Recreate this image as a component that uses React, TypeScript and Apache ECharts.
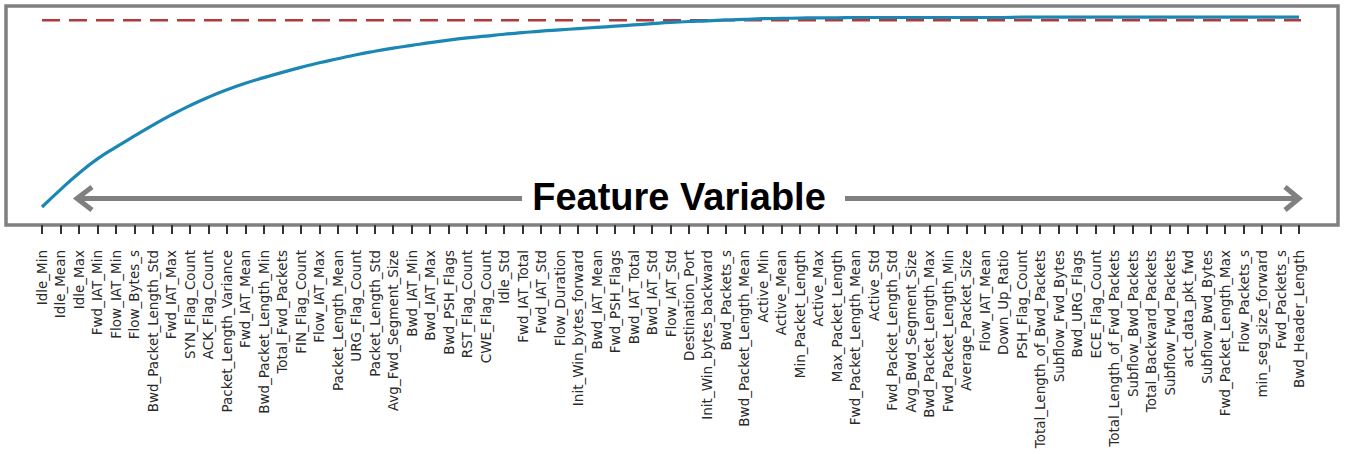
import React, { useEffect, useRef } from "react";
import * as echarts from "echarts";

const features: string[] = [
  "Idle_Min", "Idle_Mean", "Idle_Max", "Fwd_IAT_Min", "Flow_IAT_Min", "Flow_Bytes_s",
  "Bwd_Packet_Length_Std", "Fwd_IAT_Max", "SYN_Flag_Count", "ACK_Flag_Count",
  "Packet_Length_Variance", "Fwd_IAT_Mean", "Bwd_Packet_Length_Min", "Total_Fwd_Packets",
  "FIN_Flag_Count", "Flow_IAT_Max", "Packet_Length_Mean", "URG_Flag_Count",
  "Packet_Length_Std", "Avg_Fwd_Segment_Size", "Bwd_IAT_Min", "Bwd_IAT_Max",
  "Bwd_PSH_Flags", "RST_Flag_Count", "CWE_Flag_Count", "Idle_Std", "Fwd_IAT_Total",
  "Fwd_IAT_Std", "Flow_Duration", "Init_Win_bytes_forward", "Bwd_IAT_Mean",
  "Fwd_PSH_Flags", "Bwd_IAT_Total", "Bwd_IAT_Std", "Flow_IAT_Std", "Destination_Port",
  "Init_Win_bytes_backward", "Bwd_Packets_s", "Bwd_Packet_Length_Mean", "Active_Min",
  "Active_Mean", "Min_Packet_Length", "Active_Max", "Max_Packet_Length",
  "Fwd_Packet_Length_Mean", "Active_Std", "Fwd_Packet_Length_Std", "Avg_Bwd_Segment_Size",
  "Bwd_Packet_Length_Max", "Fwd_Packet_Length_Min", "Average_Packet_Size", "Flow_IAT_Mean",
  "Down_Up_Ratio", "PSH_Flag_Count", "Total_Length_of_Bwd_Packets", "Subflow_Fwd_Bytes",
  "Bwd_URG_Flags", "ECE_Flag_Count", "Total_Length_of_Fwd_Packets", "Subflow_Bwd_Packets",
  "Total_Backward_Packets", "Subflow_Fwd_Packets", "act_data_pkt_fwd", "Subflow_Bwd_Bytes",
  "Fwd_Packet_Length_Max", "Flow_Packets_s", "min_seg_size_forward", "Fwd_Packets_s",
  "Bwd_Header_Length",
];

const cumulative: number[] = [
  0.388, 0.444, 0.497, 0.543, 0.581, 0.617, 0.652, 0.685, 0.715, 0.742,
  0.766, 0.787, 0.805, 0.822, 0.838, 0.853, 0.866, 0.879, 0.890, 0.900,
  0.909, 0.918, 0.926, 0.933, 0.939, 0.945, 0.950, 0.955, 0.959, 0.963,
  0.967, 0.971, 0.975, 0.979, 0.983, 0.986, 0.988, 0.991, 0.993, 0.995,
  0.996, 0.997, 0.998, 0.998, 0.999, 0.999, 0.999, 0.999, 0.999, 0.999,
  0.999, 0.999, 0.999, 1.0, 1.0, 1.0, 1.0, 1.0, 1.0, 1.0,
  1.0, 1.0, 1.0, 1.0, 1.0, 1.0, 1.0, 1.0, 1.0,
];

const threshold = 0.99;
const thresholdSpan: number[] = [0, 68.9];

export default function App() {
  const ref = useRef<HTMLDivElement>(null);
  useEffect(() => {
    if (!ref.current) return;
    const chart = echarts.init(ref.current, undefined, { renderer: "svg" });
    const gray = "#808080";
    chart.setOption({
      animation: false,
      backgroundColor: "#ffffff",
      grid: { left: 42, right: 49, top: 6, height: 219, containLabel: false },
      xAxis: [
        {
          type: "category",
          data: features,
          boundaryGap: false,
          axisLine: { show: false },
          axisTick: { show: true, interval: 0, length: 9, lineStyle: { color: "#333333", width: 2 } },
          axisLabel: {
            interval: 0,
            rotate: 90,
            margin: 25,
            fontSize: 13.5,
            fontFamily: "DejaVu Sans",
            color: "#2a2a2a",
          },
          splitLine: { show: false },
        },
        { type: "value", min: 0, max: 68, show: false },
      ],
      yAxis: { type: "value", min: 0.33, max: 1.036, show: false, splitLine: { show: false } },
      series: [
        {
          type: "line",
          xAxisIndex: 1,
          data: thresholdSpan.map((x) => [x, threshold]),
          clip: false,
          symbol: "none",
          lineStyle: { color: "#b03a3a", width: 2.5, type: [18, 9] },
          z: 2,
        },
        {
          type: "line",
          xAxisIndex: 0,
          data: cumulative,
          symbol: "none",
          smooth: 0.5,
          lineStyle: { color: "#1b87b5", width: 3.2 },
          z: 3,
        },
      ],
      graphic: [
        {
          type: "rect",
          shape: { x: 6, y: 6, width: 1332, height: 219 },
          style: { fill: "none", stroke: gray, lineWidth: 3.5 },
          silent: true,
        },
        {
          type: "line",
          shape: { x1: 78, y1: 198.5, x2: 522, y2: 198.5 },
          style: { stroke: gray, lineWidth: 5 },
        },
        {
          type: "polyline",
          shape: { points: [[92, 187], [77, 198.5], [92, 210]] },
          style: { stroke: gray, lineWidth: 5, fill: "none" },
        },
        {
          type: "line",
          shape: { x1: 845, y1: 198.5, x2: 1297, y2: 198.5 },
          style: { stroke: gray, lineWidth: 5 },
        },
        {
          type: "polyline",
          shape: { points: [[1285, 187], [1299, 198.5], [1285, 210]] },
          style: { stroke: gray, lineWidth: 5, fill: "none" },
        },
        {
          type: "text",
          x: 679,
          y: 197,
          style: {
            text: "Feature Variable",
            font: "bold 38px 'Liberation Sans', Arial, sans-serif",
            fill: "#000000",
            align: "center",
            verticalAlign: "middle",
          },
        },
      ],
    });
    return () => chart.dispose();
  }, []);
  return (
    <div
      ref={ref}
      style={{ position: "absolute", left: 0, top: 0, width: 1348, height: 454 }}
    />
  );
}
